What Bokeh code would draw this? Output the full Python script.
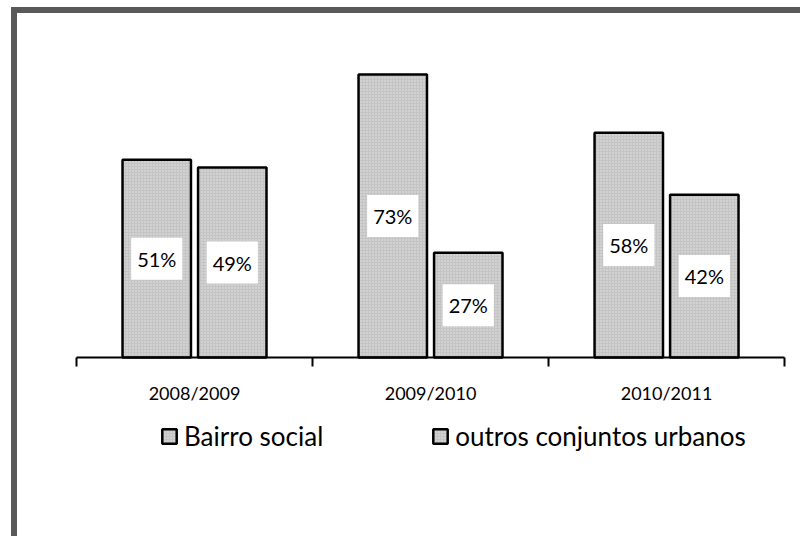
from bokeh.plotting import figure
from bokeh.models import Range1d, FixedTicker, Legend, LegendItem, ColumnDataSource
from bokeh.embed import file_html
from bokeh.resources import INLINE
from bokeh.core.properties import value

categories = ["2008/2009", "2009/2010", "2010/2011"]
series_names = ["Bairro social", "outros conjuntos urbanos"]
bairro_social = [51, 73, 58]
outros = [49, 27, 42]

FONT = "Lato"

p = figure(width=789, height=529, output_backend="svg", toolbar_location=None,
           x_range=Range1d(-0.25, 3.093), y_range=Range1d(-47.72, 88.73),
           min_border=0, min_border_left=0, min_border_right=0,
           min_border_top=0, min_border_bottom=0)
p.styles = {"margin-left": "11px", "margin-top": "7px",
            "border-left": "6px solid #595959", "border-top": "6px solid #595959"}
p.outline_line_color = None
p.border_fill_color = "white"
p.xgrid.visible = False
p.ygrid.visible = False
p.yaxis.visible = False

offsets = [-0.16, 0.16]
renderers = []
for vals, off in zip([bairro_social, outros], offsets):
    xs = [i + 0.5 + off for i in range(len(categories))]
    src = ColumnDataSource(dict(x=xs, top=vals, mid=[v / 2 for v in vals],
                                lab=[f"{v}%" for v in vals]))
    r = p.vbar(x="x", top="top", width=0.29, source=src,
               fill_color="#c4c4c4", line_color="black", line_width=2.5,
               hatch_pattern="dot", hatch_color="#e6e6e6", hatch_scale=3, hatch_weight=1)
    renderers.append(r)
    p.text(x="x", y="mid", text="lab", source=src, text_align="center",
           text_baseline="middle", text_font=value(FONT), text_font_size="20px",
           text_color="black", background_fill_color="white", padding=(6, 9))

ax = p.xaxis[0]
ax.fixed_location = 0
ax.bounds = (0, 3)
ax.ticker = FixedTicker(ticks=[0.5, 1.5, 2.5], minor_ticks=[0, 1, 2, 3])
ax.major_label_overrides = {0.5: categories[0], 1.5: categories[1], 2.5: categories[2]}
ax.major_tick_out = 0
ax.major_tick_in = 0
ax.minor_tick_out = 9
ax.minor_tick_in = 0
ax.minor_tick_line_color = "black"
ax.minor_tick_line_width = 2
ax.axis_line_color = "black"
ax.axis_line_width = 2
ax.major_label_standoff = 16
ax.major_label_text_font = FONT
ax.major_label_text_font_size = "18px"
ax.major_label_text_color = "black"

legend = Legend(items=[LegendItem(label=n, renderers=[r]) for n, r in zip(series_names, renderers)],
                orientation="horizontal", location=(143, 90),
                label_text_font=FONT, label_text_font_size="26px",
                label_text_color="black", glyph_width=18, glyph_height=18,
                label_standoff=6, spacing=108, border_line_color=None,
                background_fill_alpha=0, padding=0, margin=0)
p.add_layout(legend)

open("out.html", "w").write(file_html(p, INLINE))
